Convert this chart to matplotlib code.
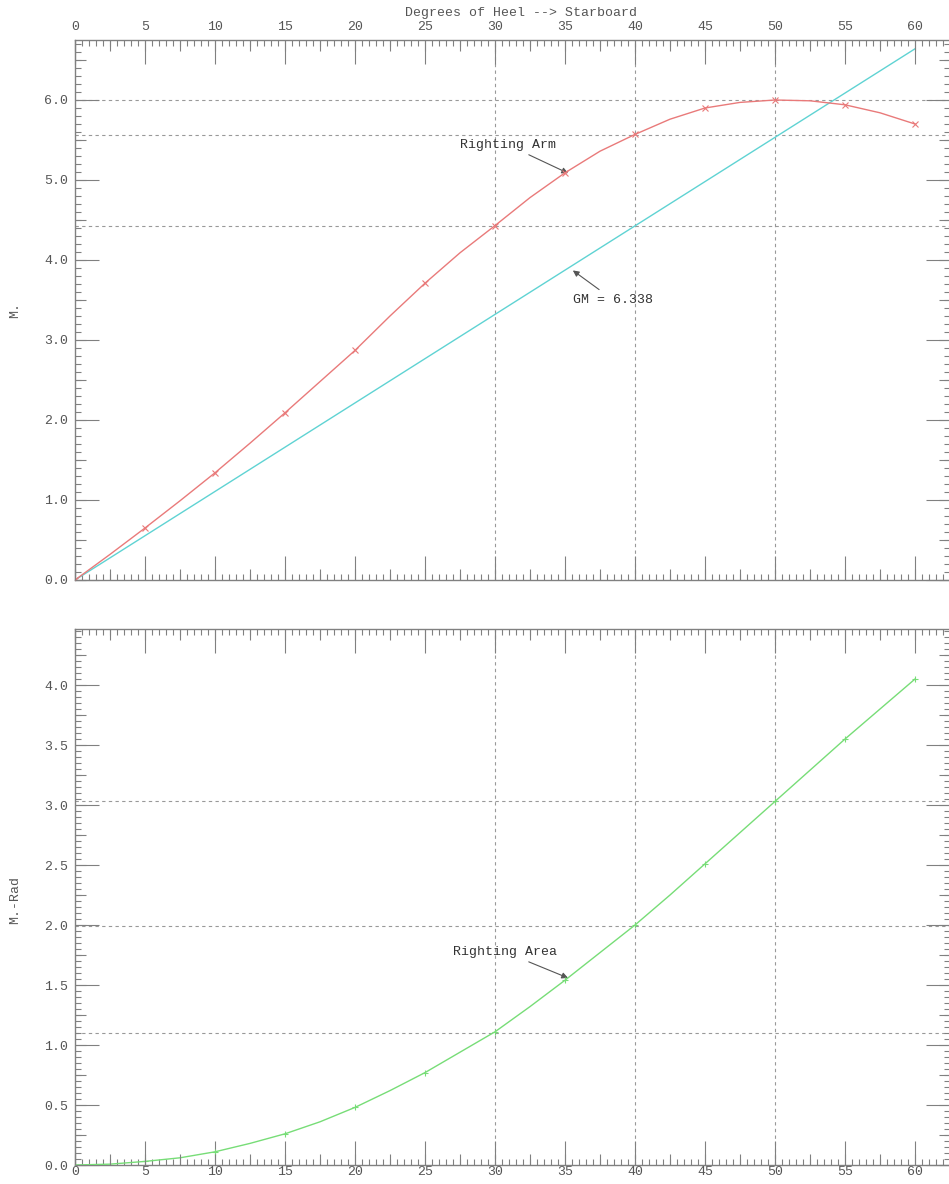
import matplotlib
matplotlib.use("Agg")
import matplotlib.pyplot as plt
from matplotlib.ticker import MultipleLocator, FormatStrFormatter

# values (markers sit on every 5 degrees)
heel = [0, 2.5, 5, 7.5, 10, 12.5, 15, 17.5, 20, 22.5, 25, 27.5, 30, 32.5,
        35, 37.5, 40, 42.5, 45, 47.5, 50, 52.5, 55, 57.5, 60]
righting_arm = [0.0, 0.32, 0.65, 0.99, 1.34, 1.71, 2.09, 2.48, 2.87, 3.30,
                3.71, 4.09, 4.43, 4.78, 5.09, 5.36, 5.57, 5.76, 5.90, 5.97,
                6.00, 5.99, 5.94, 5.84, 5.70]
righting_area = [0.0, 0.007, 0.03, 0.06, 0.11, 0.18, 0.26, 0.36, 0.48, 0.62,
                 0.77, 0.94, 1.11, 1.32, 1.54, 1.77, 2.00, 2.25, 2.51, 2.77,
                 3.03, 3.29, 3.55, 3.80, 4.05]
gm_heel = [0, 60]
gm_arm = [0.0, 6.64]
ref_heel = [30, 40, 50]
ref_arm = [4.42, 5.56, 6.00]
ref_area = [1.10, 1.99, 3.03]

plt.rcParams['font.family'] = ['Liberation Mono', 'DejaVu Sans Mono']
plt.rcParams['font.size'] = 9.5

W, H = 949, 1184
fig = plt.figure(figsize=(W / 100, H / 100), dpi=100)
ax1 = fig.add_axes([75 / W, 1 - 580 / H, 875 / W, 540 / H])
ax2 = fig.add_axes([75 / W, 1 - 1165 / H, 875 / W, 536 / H])

tick_c = '#808080'
lab_c = '#555555'


def style(ax, ylim, ymaj, ymed, ymin, top_labels):
    ax.set_xlim(0, 62.5)
    ax.set_ylim(*ylim)
    # medium ticks through twin axes (matplotlib has only major/minor)
    tx = ax.twiny()
    tx.set_xlim(ax.get_xlim())
    tx.xaxis.set_major_locator(MultipleLocator(2.5))
    tx.tick_params(direction='in', length=8, width=0.8, top=True, bottom=True,
                   labeltop=False, labelbottom=False, color=tick_c)
    ty = ax.twinx()
    ty.set_ylim(ax.get_ylim())
    ty.yaxis.set_major_locator(MultipleLocator(ymed))
    ty.tick_params(direction='in', length=8, width=0.8, left=True, right=True,
                   labelleft=False, labelright=False, color=tick_c)
    for t in (tx, ty):
        for s in t.spines.values():
            s.set_visible(False)

    ax.xaxis.set_major_locator(MultipleLocator(5))
    ax.xaxis.set_minor_locator(MultipleLocator(0.5))
    ax.yaxis.set_major_locator(MultipleLocator(ymaj))
    ax.yaxis.set_minor_locator(MultipleLocator(ymin))
    ax.yaxis.set_major_formatter(FormatStrFormatter('%.1f'))
    ax.tick_params(which='both', direction='in', top=True, bottom=True,
                   left=True, right=True, color=tick_c, labelcolor=lab_c)
    ax.tick_params(which='major', length=17, width=0.8, pad=5)
    ax.tick_params(which='minor', length=4, width=0.8)
    ax.tick_params(axis='x', labeltop=top_labels, labelbottom=not top_labels)
    if not top_labels:
        ax.tick_params(axis='x', which='major', pad=1)
    for s in ax.spines.values():
        s.set_color(tick_c)
        s.set_linewidth(1.0)


style(ax1, (0, 6.75), 1.0, 0.5, 0.1, True)
style(ax2, (0, 4.467), 0.5, 0.25, 0.05, False)

grid_kw = dict(color='#999999', lw=0.8, ls=(0, (3, 3)), zorder=1)
for ax, refs in ((ax1, ref_arm), (ax2, ref_area)):
    for x in ref_heel:
        ax.axvline(x, **grid_kw)
    for y in refs:
        ax.axhline(y, **grid_kw)

ax1.plot(gm_heel, gm_arm, color='#5fd3d3', lw=1.0, zorder=3)
ax1.plot(heel, righting_arm, color='#e97a7a', lw=1.0, marker='x', ms=4,
         mew=0.8, markevery=2, zorder=4)
ax2.plot(heel, righting_area, color='#77dd77', lw=1.0, marker='+', ms=4,
         mew=0.8, markevery=2, zorder=4)

arrow = dict(arrowstyle='-|>', color='#555555', lw=0.8, mutation_scale=9)
ax1.annotate('Righting Arm', xy=(35.4, 5.07), xytext=(30.9, 5.44),
             ha='center', va='center', color='#333333', arrowprops=arrow)
ax1.annotate('GM = 6.338', xy=(35.4, 3.89), xytext=(35.6, 3.5),
             ha='left', va='center', color='#333333', arrowprops=arrow)
ax2.annotate('Righting Area', xy=(35.4, 1.55), xytext=(30.7, 1.775),
             ha='center', va='center', color='#333333', arrowprops=arrow)

fig.text(521 / W, 1 - 13 / H, 'Degrees of Heel --> Starboard',
         ha='center', va='center', color=lab_c)
fig.text(15 / W, 1 - 310 / H, 'M.', rotation=90, ha='center', va='center',
         color=lab_c)
fig.text(15 / W, 1 - 900 / H, 'M.-Rad', rotation=90, ha='center', va='center',
         color=lab_c)

fig.savefig('out.png', dpi=100)
